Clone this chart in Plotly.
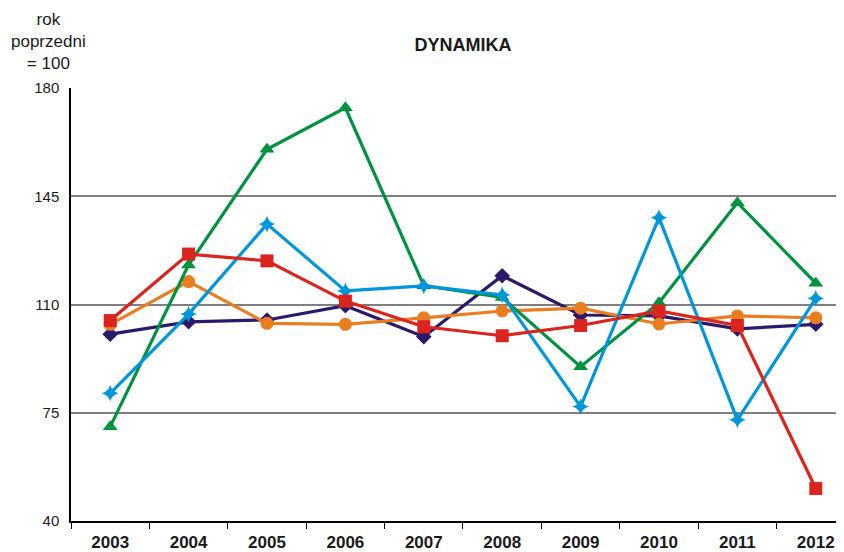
import plotly.graph_objects as go

years = ["2003", "2004", "2005", "2006", "2007", "2008", "2009", "2010", "2011", "2012"]

navy_vals = [100.4, 104.4, 105.0, 109.6, 99.6, 119.3, 106.6, 106.3, 102.1, 103.6]
orange_vals = [103.6, 117.4, 103.9, 103.6, 105.7, 107.9, 108.8, 103.7, 106.3, 105.7]
red_vals = [104.8, 126.3, 124.1, 111.1, 102.8, 99.9, 103.2, 107.9, 103.2, 50.5]
green_vals = [70.5, 122.8, 160.2, 173.6, 116.1, 112.3, 89.9, 110.6, 142.9, 116.9]
blue_vals = [81.3, 106.9, 136.0, 114.4, 116.0, 113.1, 77.0, 138.1, 72.7, 112.0]

series = [
    ("navy", navy_vals, "#2B1A6B", "diamond", 12),
    ("orange", orange_vals, "#EA7D1F", "circle", 13),
    ("green", green_vals, "#00933F", "triangle-up", 13),
    ("blue", blue_vals, "#0096DB", "star-diamond", 12),
    ("red", red_vals, "#DB241D", "square", 13),
]

# page has an 8px body margin; figure is sized so the plot lands where the reference has it
W, H = 836, 544
L, T, B = 63, 80, 31
PW, PH = W - L, H - T - B

fig = go.Figure()
for name, vals, color, sym, size in series:
    fig.add_trace(go.Scatter(
        x=years, y=vals, name=name, mode="lines+markers",
        line=dict(color=color, width=3.2),
        marker=dict(symbol=sym, size=size, color=color),
        cliponaxis=False,
    ))

fig.update_layout(
    width=W, height=H,
    margin=dict(l=L, r=0, t=T, b=B),
    paper_bgcolor="white", plot_bgcolor="white",
    showlegend=False,
    font=dict(family="Liberation Sans, Arial, sans-serif", color="#000000"),
    title=dict(text="<b>DYNAMIKA</b>", x=455 / W, xanchor="center", y=1 - 37 / H, yanchor="middle",
               font=dict(size=18, color="#1a1a1a")),
    xaxis=dict(
        type="category", range=[-0.5, 9.36], automargin=False,
        showline=True, linecolor="#000000", linewidth=1.5,
        ticks="outside", ticklen=6, tickcolor="#000000", tickwidth=1,
        tickson="boundaries", showgrid=False, ticklabelstandoff=5,
        tickfont=dict(size=17, color="#1a1a1a"),
    ),
    yaxis=dict(
        range=[40, 180], tickvals=[40, 75, 110, 145, 180], automargin=False,
        showline=True, linecolor="#000000", linewidth=1.5,
        showgrid=True, gridcolor="#7f7f7f", gridwidth=1.5,
        ticks="", ticklabelstandoff=7,
        tickfont=dict(size=15, color="#1a1a1a"),
        zeroline=False,
    ),
)

fig.update_xaxes(tickprefix="<b>", ticksuffix="</b>")

fig.add_annotation(
    text="rok<br>poprzedni<br>= 100", xref="paper", yref="paper",
    x=(40.5 - L) / PW, y=1 + (T - 33.5) / PH, xanchor="center", yanchor="middle",
    showarrow=False, font=dict(size=17, color="#1a1a1a"), align="center",
)

fig.write_html("out.html")
